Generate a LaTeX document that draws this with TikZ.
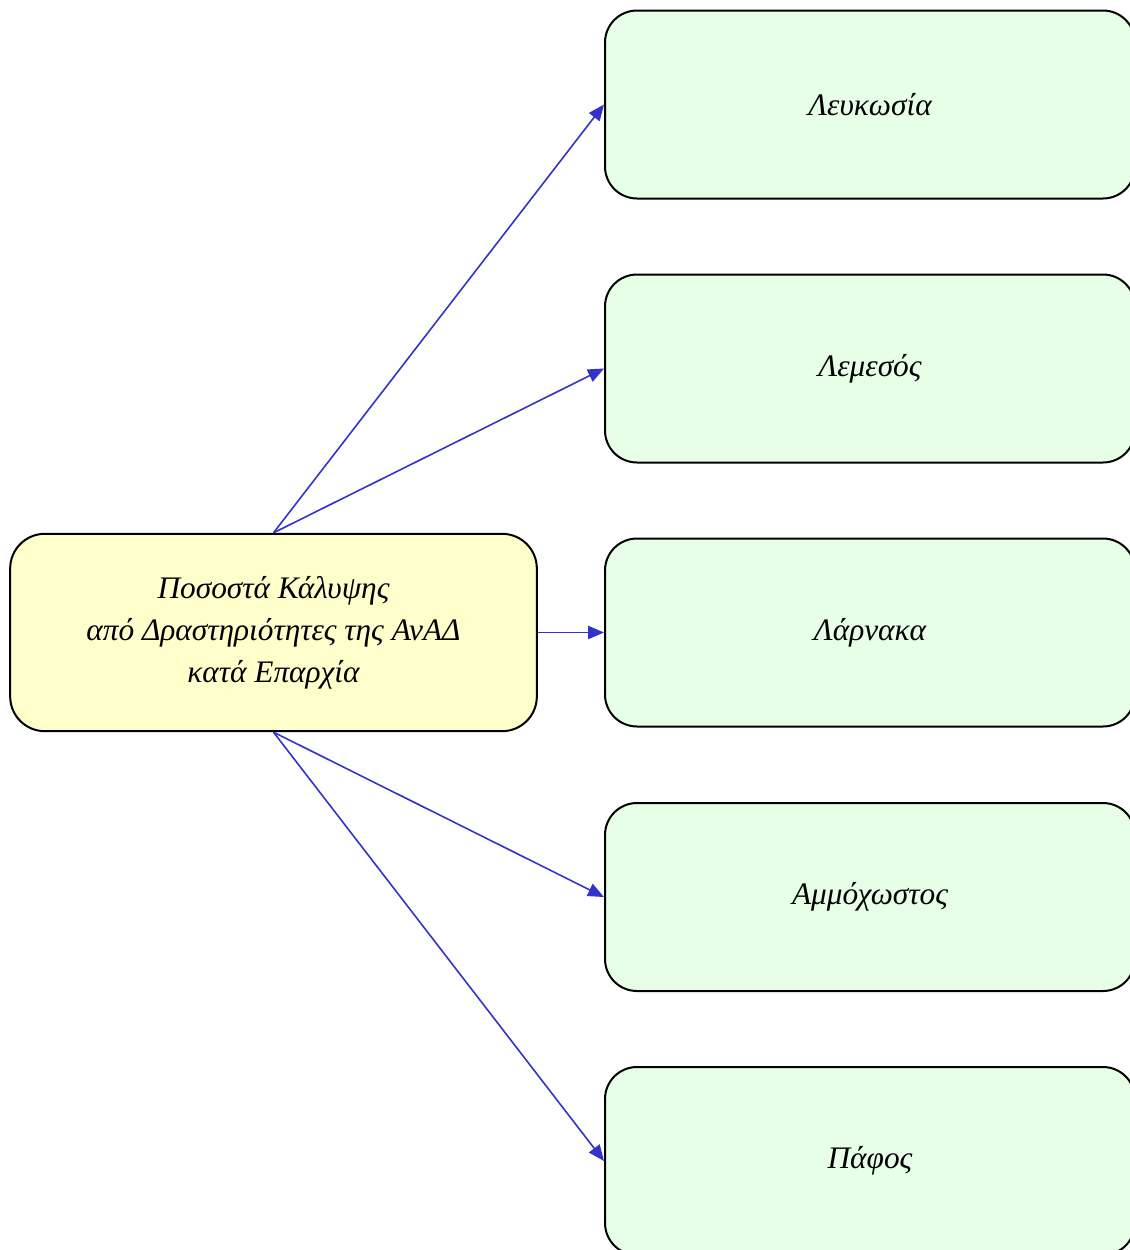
\documentclass[tikz,border=0pt]{standalone}
\usepackage{fontspec}
\setmainfont{Liberation Serif}
\usetikzlibrary{arrows.meta}
\definecolor{cyel}{HTML}{FFFFCC}
\definecolor{cgrn}{HTML}{E6FFE6}
\definecolor{carr}{HTML}{3333CC}
\tikzset{
  mainbox/.style={draw=black, line width=1.5pt, rounded corners=26pt, fill=cyel,
    minimum width=395pt, minimum height=148pt, align=center, inner sep=0pt,
    font=\fontsize{23.5}{31.5}\selectfont\itshape},
  citybox/.style={draw=black, line width=1.5pt, rounded corners=24pt, fill=cgrn,
    minimum width=397.5pt, minimum height=141pt, align=center, inner sep=0pt,
    font=\fontsize{23.5}{28}\selectfont\itshape},
  conn/.style={draw=carr, line width=1.2pt, -{Triangle[length=12pt,width=10pt]}}
}
\begin{document}
\begin{tikzpicture}[x=0.75pt,y=-0.75pt]
\useasboundingbox (0,0) rectangle (1130,1250);
\node[mainbox] (c) at (273.5,632.5) {Ποσοστά Κάλυψης\\από Δραστηριότητες της ΑνΑΔ\\κατά Επαρχία};
\node[citybox] (b1) at (870,104.5) {Λευκωσία};
\node[citybox] (b2) at (870,368.5) {Λεμεσός};
\node[citybox] (b3) at (870,632.5) {Λάρνακα};
\node[citybox] (b4) at (870,897) {Αμμόχωστος};
\node[citybox] (b5) at (870,1161) {Πάφος};
\draw[conn] (c.north) -- (b1.west);
\draw[conn] (c.north) -- (b2.west);
\draw[conn] (c.east) -- (b3.west);
\draw[conn] (c.south) -- (b4.west);
\draw[conn] (c.south) -- (b5.west);
\end{tikzpicture}
\end{document}
